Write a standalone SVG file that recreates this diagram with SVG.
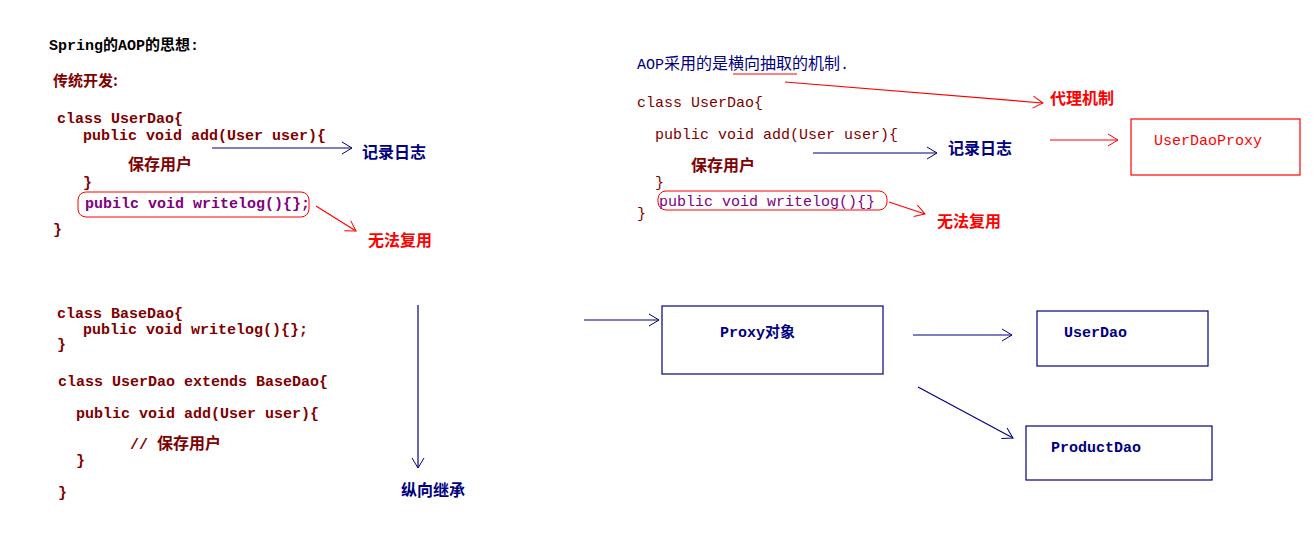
<svg xmlns="http://www.w3.org/2000/svg" width="1316" height="540" viewBox="0 0 1316 540">
<style>
text{font-family:"Liberation Mono","Noto Sans CJK SC",monospace;font-size:15px}
.b{font-weight:bold}
.dr{fill:#800000}
.nv{fill:#000080}
.pu{fill:#800080}
.rd{fill:#ff0000}
.bk{fill:#000}
.cj{font-family:"Noto Sans CJK SC","Liberation Sans",sans-serif;font-size:15px}
.ln{fill:none;stroke-width:1.2}
.ln-nv{stroke:#000080}
.ln-rd{stroke:#ff0000}
.box{fill:#fff;stroke-width:1.2}
</style>
<defs>
<marker id="an" markerWidth="12" markerHeight="14" refX="11" refY="7" orient="auto" markerUnits="userSpaceOnUse"><path d="M1,1 L11,7 L1,13" fill="none" stroke="#000080" stroke-width="1"/></marker>
<marker id="ar" markerWidth="12" markerHeight="14" refX="11" refY="7" orient="auto" markerUnits="userSpaceOnUse"><path d="M1,1 L11,7 L1,13" fill="none" stroke="#ff0000" stroke-width="1"/></marker>
</defs>
<rect width="1316" height="540" fill="#fff"/>

<g id="title-left">
<text x="49" y="50" class="b bk">Spring的AOP的思想:</text>
<text x="53" y="86" class="b dr cj" font-size="15">传统开发:</text>
</g>

<g id="code-traditional">
<text x="57" y="123" class="b dr">class UserDao{</text>
<text x="83" y="140" class="b dr">public void add(User user){</text>
<text x="128" y="170" class="b dr cj" style="font-size:16px">保存用户</text>
<text x="83" y="187" class="b dr">}</text>
<rect x="78" y="192" width="231" height="25" rx="8" fill="none" stroke="#ff0000" stroke-width="1"/>
<text x="85" y="208" class="b pu">pubilc void writelog(){};</text>
<text x="53" y="234" class="b dr">}</text>
</g>

<g id="label-log-left"><text x="362" y="158" class="b nv cj" style="font-size:16px">记录日志</text></g>
<g id="label-noreuse-left"><text x="368" y="246" class="b rd cj" style="font-size:16px">无法复用</text></g>

<g id="code-inherit">
<text x="57" y="318" class="b dr">class BaseDao{</text>
<text x="83" y="334" class="b dr">public void writelog(){};</text>
<text x="57" y="349" class="b dr">}</text>
<text x="58" y="386" class="b dr">class UserDao extends BaseDao{</text>
<text x="76" y="418" class="b dr">public void add(User user){</text>
<text x="130" y="449" class="b dr">// <tspan class="cj" style="font-size:16px">保存用户</tspan></text>
<text x="76" y="465" class="b dr">}</text>
<text x="58" y="497" class="b dr">}</text>
</g>
<g id="label-vertical"><text x="401" y="496" class="b nv cj" style="font-size:16px">纵向继承</text></g>

<g id="title-right">
<text x="637" y="69" class="nv">AOP<tspan class="cj" style="font-size:16px">采用的是横向抽取的机制</tspan>.</text>
<line x1="733" y1="74" x2="797" y2="74" stroke="#ff0000" stroke-width="1.2"/>
</g>
<g id="label-proxy-mech"><text x="1050" y="104" class="b rd cj" style="font-size:16px">代理机制</text></g>

<g id="code-aop">
<text x="637" y="107" class="dr">class UserDao{</text>
<text x="655" y="139" class="dr">public void add(User user){</text>
<text x="691" y="171" class="dr cj b" style="font-size:16px">保存用户</text>
<text x="655" y="187" class="dr">}</text>
<rect x="658" y="191" width="229" height="19" rx="8" fill="none" stroke="#ff0000" stroke-width="1"/>
<text x="659" y="206" class="pu">public void writelog(){}</text>
<text x="637" y="218" class="dr">}</text>
</g>
<g id="label-log-right"><text x="948" y="154" class="b nv cj" style="font-size:16px">记录日志</text></g>
<g id="label-noreuse-right"><text x="937" y="227" class="b rd cj" style="font-size:16px">无法复用</text></g>

<g id="node-userdaoproxy">
<rect x="1131" y="119" width="169" height="56" fill="#fff" stroke="#ff0000" stroke-width="1.2"/>
<text x="1154" y="145" class="rd">UserDaoProxy</text>
</g>

<g id="node-proxy">
<rect x="662" y="306" width="221" height="68" class="box" stroke="#000080"/>
<text x="720" y="337" class="b nv">Proxy<tspan class="cj">对象</tspan></text>
</g>
<g id="node-userdao">
<rect x="1037" y="311" width="171" height="55" class="box" stroke="#000080"/>
<text x="1064" y="337" class="b nv">UserDao</text>
</g>
<g id="node-productdao">
<rect x="1026" y="426" width="186" height="54" class="box" stroke="#000080"/>
<text x="1051" y="452" class="b nv">ProductDao</text>
</g>

<g id="connectors">
<line x1="212" y1="148" x2="352" y2="148" class="ln ln-nv" marker-end="url(#an)"/>
<line x1="316" y1="206" x2="356" y2="231" class="ln ln-rd" marker-end="url(#ar)"/>
<line x1="418" y1="305" x2="418" y2="468" class="ln ln-nv" marker-end="url(#an)"/>
<line x1="785" y1="82" x2="1043" y2="103" class="ln ln-rd" marker-end="url(#ar)"/>
<line x1="813" y1="153" x2="937" y2="153" class="ln ln-nv" marker-end="url(#an)"/>
<line x1="889" y1="202" x2="925" y2="214" class="ln ln-rd" marker-end="url(#ar)"/>
<line x1="1050" y1="140" x2="1118" y2="140" class="ln ln-rd" marker-end="url(#ar)"/>
<line x1="584" y1="320" x2="659" y2="320" class="ln ln-nv" marker-end="url(#an)"/>
<line x1="913" y1="335" x2="1012" y2="335" class="ln ln-nv" marker-end="url(#an)"/>
<line x1="918" y1="387" x2="1013" y2="438" class="ln ln-nv" marker-end="url(#an)"/>
</g>
</svg>
